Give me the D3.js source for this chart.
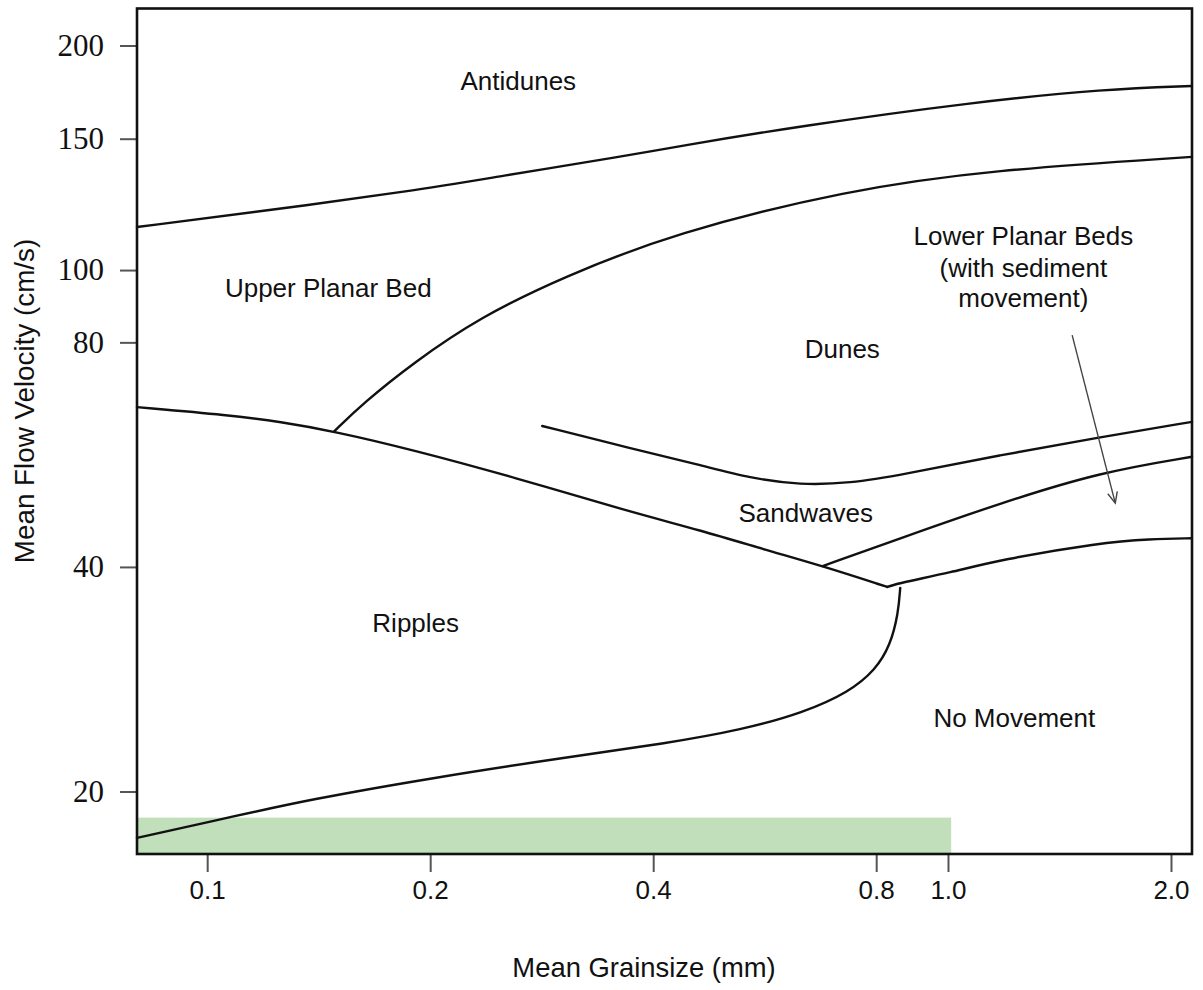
<!DOCTYPE html>
<html>
<head>
<meta charset="utf-8">
<script src="https://cdn.jsdelivr.net/npm/d3@7"></script>
<style>
  html, body { margin: 0; padding: 0; background: #fff; }
  svg { display: block; }
</style>
</head>
<body>
<svg id="chart" width="1203" height="990"></svg>
<script>
// Bedform stability fields: mean grain size (mm) vs mean flow velocity (cm/s)

const xTicks = [0.1, 0.2, 0.4, 0.8, 1.0, 2.0];
const yTicks = [20, 40, 80, 100, 150, 200];

// Boundary curves, each as [grain size, velocity] pairs
const antidunesBoundary = [
  [0.0804, 114.2], [0.119, 120.0], [0.1909, 127.8], [0.2463, 133.4],
  [0.3724, 142.6], [0.427, 146.2], [0.632, 156.0], [1.085, 168.0], [1.635, 174.9], [2.135, 176.5]
];
const upperPlaneBoundary = [
  [0.1484, 60.8], [0.1624, 66.3], [0.1897, 75.1], [0.2336, 86.5], [0.3024, 97.9],
  [0.427, 112.1], [0.731, 128.0], [1.144, 136.2], [2.135, 141.8]
];
const ripplesUpperBoundary = [
  [0.0804, 65.5], [0.1074, 63.9], [0.1255, 62.6], [0.1484, 60.8], [0.1897, 57.4],
  [0.2589, 52.8], [0.3724, 47.4], [0.463, 44.8], [0.570, 42.1], [0.6775, 40.1], [0.828, 37.6]
];
const dunesLowerBoundary = [
  [0.2833, 61.8], [0.3724, 57.7], [0.463, 54.8], [0.5408, 52.6], [0.632, 51.5],
  [0.738, 51.8], [0.862, 53.1], [1.176, 56.5], [1.605, 59.7], [2.135, 62.6]
];
const sandwavesLowerBoundary = [
  [0.6775, 40.1], [0.862, 43.7], [1.176, 48.7], [1.605, 53.6], [2.135, 56.2]
];
const lowerPlanarBoundary = [
  [0.828, 37.6], [0.862, 38.1], [1.007, 39.3], [1.176, 40.9], [1.605, 43.1],
  [1.875, 43.6], [2.135, 43.7]
];
const movementThreshold = [
  [0.0804, 17.33], [0.1081, 18.5], [0.1371, 19.5], [0.2038, 20.9], [0.3033, 22.2],
  [0.4166, 23.2], [0.5276, 24.2], [0.638, 25.5], [0.736, 27.2], [0.798, 29.1],
  [0.836, 31.4], [0.857, 34.7], [0.862, 37.5]
];
const boundaries = [
  antidunesBoundary, upperPlaneBoundary, ripplesUpperBoundary, dunesLowerBoundary,
  sandwavesLowerBoundary, lowerPlanarBoundary, movementThreshold
];

// Shaded band along the bottom: grain size range and upper velocity
const bandGrain = [0.0804, 1.01];
const bandVelocity = 18.45;

// Region names: [text, grain size, velocity (baseline)]
const regionLabels = [
  ["Antidunes", 0.263, 174.3],
  ["Upper Planar Bed", 0.1457, 92.0],
  ["Dunes", 0.720, 76.2],
  ["Sandwaves", 0.6427, 45.9],
  ["Ripples", 0.1912, 32.7],
  ["No Movement", 1.229, 24.4],
  ["Lower Planar Beds", 1.264, 108.0],
  ["(with sediment", 1.264, 97.9],
  ["movement)", 1.264, 89.2]
];
// Pointer from the lower planar bed note into its field
const pointerFrom = [1.471, 81.8];
const pointerTo = [1.682, 48.7];

const svg = d3.select("#chart");
const plotLeft = 137, plotRight = 1192, plotTop = 8.5, plotBottom = 854;

const x = d3.scaleLog().domain([0.0804, 2.135]).range([plotLeft, plotRight]);
const y = d3.scaleLog().domain([16.49, 224.2]).range([plotBottom, plotTop]);

// shaded band
svg.append("rect")
  .attr("x", x(bandGrain[0]))
  .attr("y", y(bandVelocity))
  .attr("width", x(bandGrain[1]) - x(bandGrain[0]))
  .attr("height", y.range()[0] - y(bandVelocity))
  .attr("fill", "#c1dfba");

// boundary lines
const line = d3.line()
  .x(d => x(d[0]))
  .y(d => y(d[1]))
  .curve(d3.curveBasis);

svg.append("g")
  .selectAll("path")
  .data(boundaries)
  .join("path")
  .attr("d", line)
  .attr("fill", "none")
  .attr("stroke", "#111")
  .attr("stroke-width", 2.4)
  .attr("stroke-linejoin", "round")
  .attr("stroke-linecap", "round");

// pointer arrow
const px0 = x(pointerFrom[0]), py0 = y(pointerFrom[1]);
const px1 = x(pointerTo[0]), py1 = y(pointerTo[1]);
const ang = Math.atan2(py1 - py0, px1 - px0);
const headLen = 12, headAng = 0.42;
svg.append("line")
  .attr("x1", px0).attr("y1", py0).attr("x2", px1).attr("y2", py1)
  .attr("stroke", "#444").attr("stroke-width", 1.4);
svg.append("path")
  .attr("d", d3.line()([
    [px1 - headLen * Math.cos(ang - headAng), py1 - headLen * Math.sin(ang - headAng)],
    [px1, py1],
    [px1 - headLen * Math.cos(ang + headAng), py1 - headLen * Math.sin(ang + headAng)]
  ]))
  .attr("fill", "none").attr("stroke", "#444").attr("stroke-width", 1.4);

// region labels
svg.append("g")
  .selectAll("text")
  .data(regionLabels)
  .join("text")
  .attr("x", d => x(d[1]))
  .attr("y", d => y(d[2]))
  .attr("text-anchor", "middle")
  .attr("font-family", "'Liberation Sans', Arial, sans-serif")
  .attr("font-size", 26)
  .attr("fill", "#111")
  .text(d => d[0]);

// axes
const yAxis = d3.axisLeft(y)
  .tickValues(yTicks)
  .tickFormat(d3.format("d"))
  .tickSize(17)
  .tickPadding(16);
const gy = svg.append("g").attr("transform", `translate(${plotLeft},0)`).call(yAxis);
gy.select(".domain").remove();
gy.selectAll(".tick line").attr("stroke", "#555").attr("stroke-width", 2);
gy.selectAll(".tick text")
  .attr("font-family", "'Liberation Serif', 'Times New Roman', serif")
  .attr("font-size", 31)
  .attr("fill", "#111");

const xAxis = d3.axisBottom(x)
  .tickValues(xTicks)
  .tickFormat(d3.format(".1f"))
  .tickSize(18)
  .tickPadding(9);
const gx = svg.append("g").attr("transform", `translate(0,${plotBottom})`).call(xAxis);
gx.select(".domain").remove();
gx.selectAll(".tick line").attr("stroke", "#555").attr("stroke-width", 2);
gx.selectAll(".tick text")
  .attr("font-family", "'Liberation Sans', Arial, sans-serif")
  .attr("font-size", 26)
  .attr("fill", "#111");

// plot frame
svg.append("rect")
  .attr("x", plotLeft).attr("y", plotTop)
  .attr("width", plotRight - plotLeft).attr("height", plotBottom - plotTop)
  .attr("fill", "none")
  .attr("stroke", "#111")
  .attr("stroke-width", 2.6);

// axis titles
svg.append("text")
  .attr("x", 644).attr("y", 977)
  .attr("text-anchor", "middle")
  .attr("font-family", "'Liberation Sans', Arial, sans-serif")
  .attr("font-size", 27.4)
  .attr("fill", "#111")
  .text("Mean Grainsize (mm)");

svg.append("text")
  .attr("transform", "translate(34,401) rotate(-90)")
  .attr("text-anchor", "middle")
  .attr("font-family", "'Liberation Sans', Arial, sans-serif")
  .attr("font-size", 27.8)
  .attr("fill", "#111")
  .text("Mean Flow Velocity (cm/s)");
</script>
</body>
</html>
